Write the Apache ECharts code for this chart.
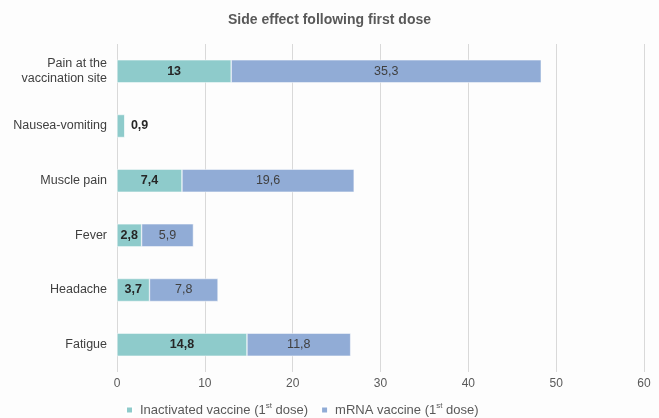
<!DOCTYPE html>
<html><head><meta charset="utf-8">
<script src="https://cdn.jsdelivr.net/npm/echarts@6/dist/echarts.min.js"></script>
<style>html,body{margin:0;padding:0;background:#fdfdfd;}#c{width:659px;height:418px;}</style>
</head><body><div id="c"></div>
<script>
const categories = ['Pain at the\nvaccination site', 'Nausea-vomiting', 'Muscle pain', 'Fever', 'Headache', 'Fatigue'];
const inactivated = [13, 0.9, 7.4, 2.8, 3.7, 14.8];
const mrna = [35.3, 0, 19.6, 5.9, 7.8, 11.8];
const seriesNames = ['Inactivated vaccine (1st dose)', 'mRNA vaccine (1st dose)'];
const xTicks = [0, 10, 20, 30, 40, 50, 60];

const fmt = v => String(v).replace('.', ',');
const chart = echarts.init(document.getElementById('c'));
chart.setOption({
  backgroundColor: '#fdfdfd',
  animation: false,
  title: { text: 'Side effect following first dose', left: 'center', top: 8,
    textStyle: { fontFamily: 'Liberation Sans', fontSize: 14, fontWeight: 'bold', color: '#595959' } },
  grid: { left: 117, right: 15, top: 44, bottom: 46, containLabel: false },
  legend: {
    top: 402, left: 125, itemWidth: 7, itemHeight: 7, itemGap: 12, icon: 'rect', padding: 0,
    textStyle: { fontFamily: 'Liberation Sans', fontSize: 13, color: '#595959', lineHeight: 16, padding: [0, 0, 0, 2],
      rich: { sup: { fontSize: 8, verticalAlign: 'top', lineHeight: 8, padding: [0,0,4,0], color: '#595959' } } },
    formatter: name => name.replace(/\(1st dose\)/, '(1{sup|st} dose)'),
    data: seriesNames
  },
  xAxis: {
    type: 'value', min: xTicks[0], max: xTicks[xTicks.length - 1], interval: 10,
    axisLine: { show: false }, axisTick: { show: false },
    splitLine: { lineStyle: { color: '#d9d9d9', width: 1 } },
    axisLabel: { fontFamily: 'Liberation Sans', fontSize: 12, color: '#595959', margin: 6 }
  },
  yAxis: {
    type: 'category', data: categories, inverse: true,
    axisLine: { show: false }, axisTick: { show: false },
    axisLabel: { fontFamily: 'Liberation Sans', fontSize: 12.5, color: '#404040', margin: 10, lineHeight: 15 }
  },
  series: [
    { name: seriesNames[0], type: 'bar', stack: 't', barWidth: '42%',
      itemStyle: { color: '#8ecbcb', borderColor: '#ffffff', borderWidth: 0.5 },
      label: { show: true, position: 'inside', fontFamily: 'Liberation Sans', fontSize: 12.5, fontWeight: 'bold', color: '#262626',
        formatter: p => fmt(p.value) },
      data: inactivated.map((v, i) => v < 2 ? { value: v, label: { position: 'right', distance: 6 } } : v)
    },
    { name: seriesNames[1], type: 'bar', stack: 't', barWidth: '42%',
      itemStyle: { color: '#91acd6', borderColor: '#ffffff', borderWidth: 0.5 },
      label: { show: true, position: 'inside', fontFamily: 'Liberation Sans', fontSize: 12.5, color: '#404040',
        formatter: p => p.value ? fmt(p.value) : '' },
      data: mrna
    }
  ]
});
</script></body></html>
